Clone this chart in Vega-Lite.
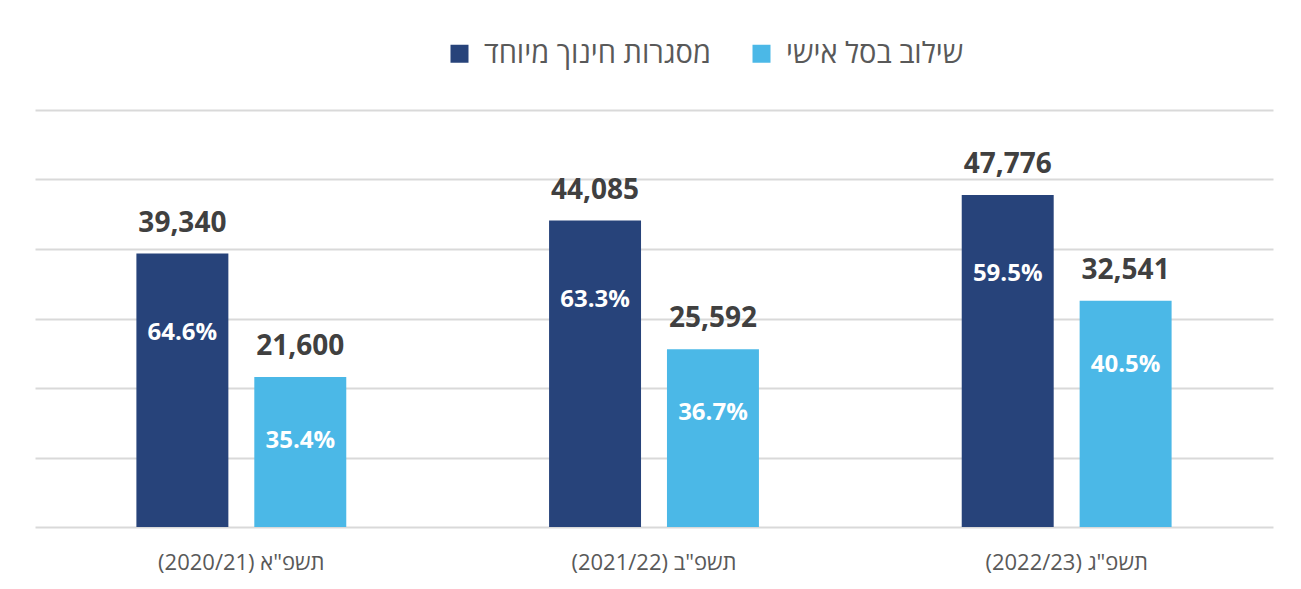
{
  "$schema": "https://vega.github.io/schema/vega-lite/v6.json",
  "width": 1238,
  "height": 417,
  "autosize": {"type": "none"},
  "padding": {"left": 35, "top": 110, "right": 28, "bottom": 62},
  "background": "white",
  "config": {"view": {"stroke": null}, "font": "Open Sans"},
  "data": {
    "values": [
      {"year": "(2020/21) תשפ\"א", "series": "מסגרות חינוך מיוחד", "value": 39340, "pct": "64.6%"},
      {"year": "(2020/21) תשפ\"א", "series": "שילוב בסל אישי", "value": 21600, "pct": "35.4%"},
      {"year": "(2021/22) תשפ\"ב", "series": "מסגרות חינוך מיוחד", "value": 44085, "pct": "63.3%"},
      {"year": "(2021/22) תשפ\"ב", "series": "שילוב בסל אישי", "value": 25592, "pct": "36.7%"},
      {"year": "(2022/23) תשפ\"ג", "series": "מסגרות חינוך מיוחד", "value": 47776, "pct": "59.5%"},
      {"year": "(2022/23) תשפ\"ג", "series": "שילוב בסל אישי", "value": 32541, "pct": "40.5%"}
    ]
  },
  "encoding": {
    "x": {
      "field": "year",
      "type": "nominal",
      "sort": ["(2020/21) תשפ\"א", "(2021/22) תשפ\"ב", "(2022/23) תשפ\"ג"],
      "scale": {"paddingInner": 0, "paddingOuter": 0},
      "axis": {
        "title": null,
        "labelAngle": 0,
        "labelFontSize": 22,
        "labelColor": "#595959",
        "labelPadding": 25,
        "domain": false,
        "ticks": false,
        "labelLimit": 400
      }
    },
    "xOffset": {
      "field": "series",
      "type": "nominal",
      "sort": ["מסגרות חינוך מיוחד", "שילוב בסל אישי"],
      "scale": {"paddingInner": 0.22, "paddingOuter": 0.86}
    }
  },
  "layer": [
    {
      "mark": {"type": "bar"},
      "encoding": {
        "y": {
          "field": "value",
          "type": "quantitative",
          "scale": {"domain": [0, 60000], "nice": false},
          "axis": {
            "title": null,
            "labels": false,
            "ticks": false,
            "domain": false,
            "grid": true,
            "gridColor": "#d9d9d9",
            "gridWidth": 2,
            "values": [0, 10000, 20000, 30000, 40000, 50000, 60000]
          }
        },
        "color": {
          "field": "series",
          "type": "nominal",
          "scale": {
            "domain": ["מסגרות חינוך מיוחד", "שילוב בסל אישי"],
            "range": ["#27437A", "#4BB8E7"]
          },
          "legend": {
            "title": null,
            "orient": "none",
            "legendX": 410,
            "legendY": -71,
            "direction": "horizontal",
            "symbolType": "square",
            "symbolSize": 324,
            "symbolStrokeWidth": 0,
            "labelFontSize": 29,
            "labelColor": "#595959",
            "labelOffset": 10,
            "columnPadding": 36,
            "labelLimit": 400
          }
        }
      }
    },
    {
      "mark": {"type": "text", "dy": -30, "baseline": "middle", "fontSize": 28, "fontWeight": "bold", "color": "#404040"},
      "encoding": {
        "y": {"field": "value", "type": "quantitative"},
        "text": {"field": "value", "type": "quantitative", "format": ","}
      }
    },
    {
      "transform": [{"filter": "datum.series === 'מסגרות חינוך מיוחד'"}],
      "mark": {"type": "text", "dy": 79, "baseline": "middle", "fontSize": 24, "fontWeight": "bold", "color": "white"},
      "encoding": {
        "y": {"field": "value", "type": "quantitative"},
        "text": {"field": "pct", "type": "nominal"}
      }
    },
    {
      "transform": [{"filter": "datum.series === 'שילוב בסל אישי'"}],
      "mark": {"type": "text", "dy": 64, "baseline": "middle", "fontSize": 24, "fontWeight": "bold", "color": "white"},
      "encoding": {
        "y": {"field": "value", "type": "quantitative"},
        "text": {"field": "pct", "type": "nominal"}
      }
    }
  ]
}
